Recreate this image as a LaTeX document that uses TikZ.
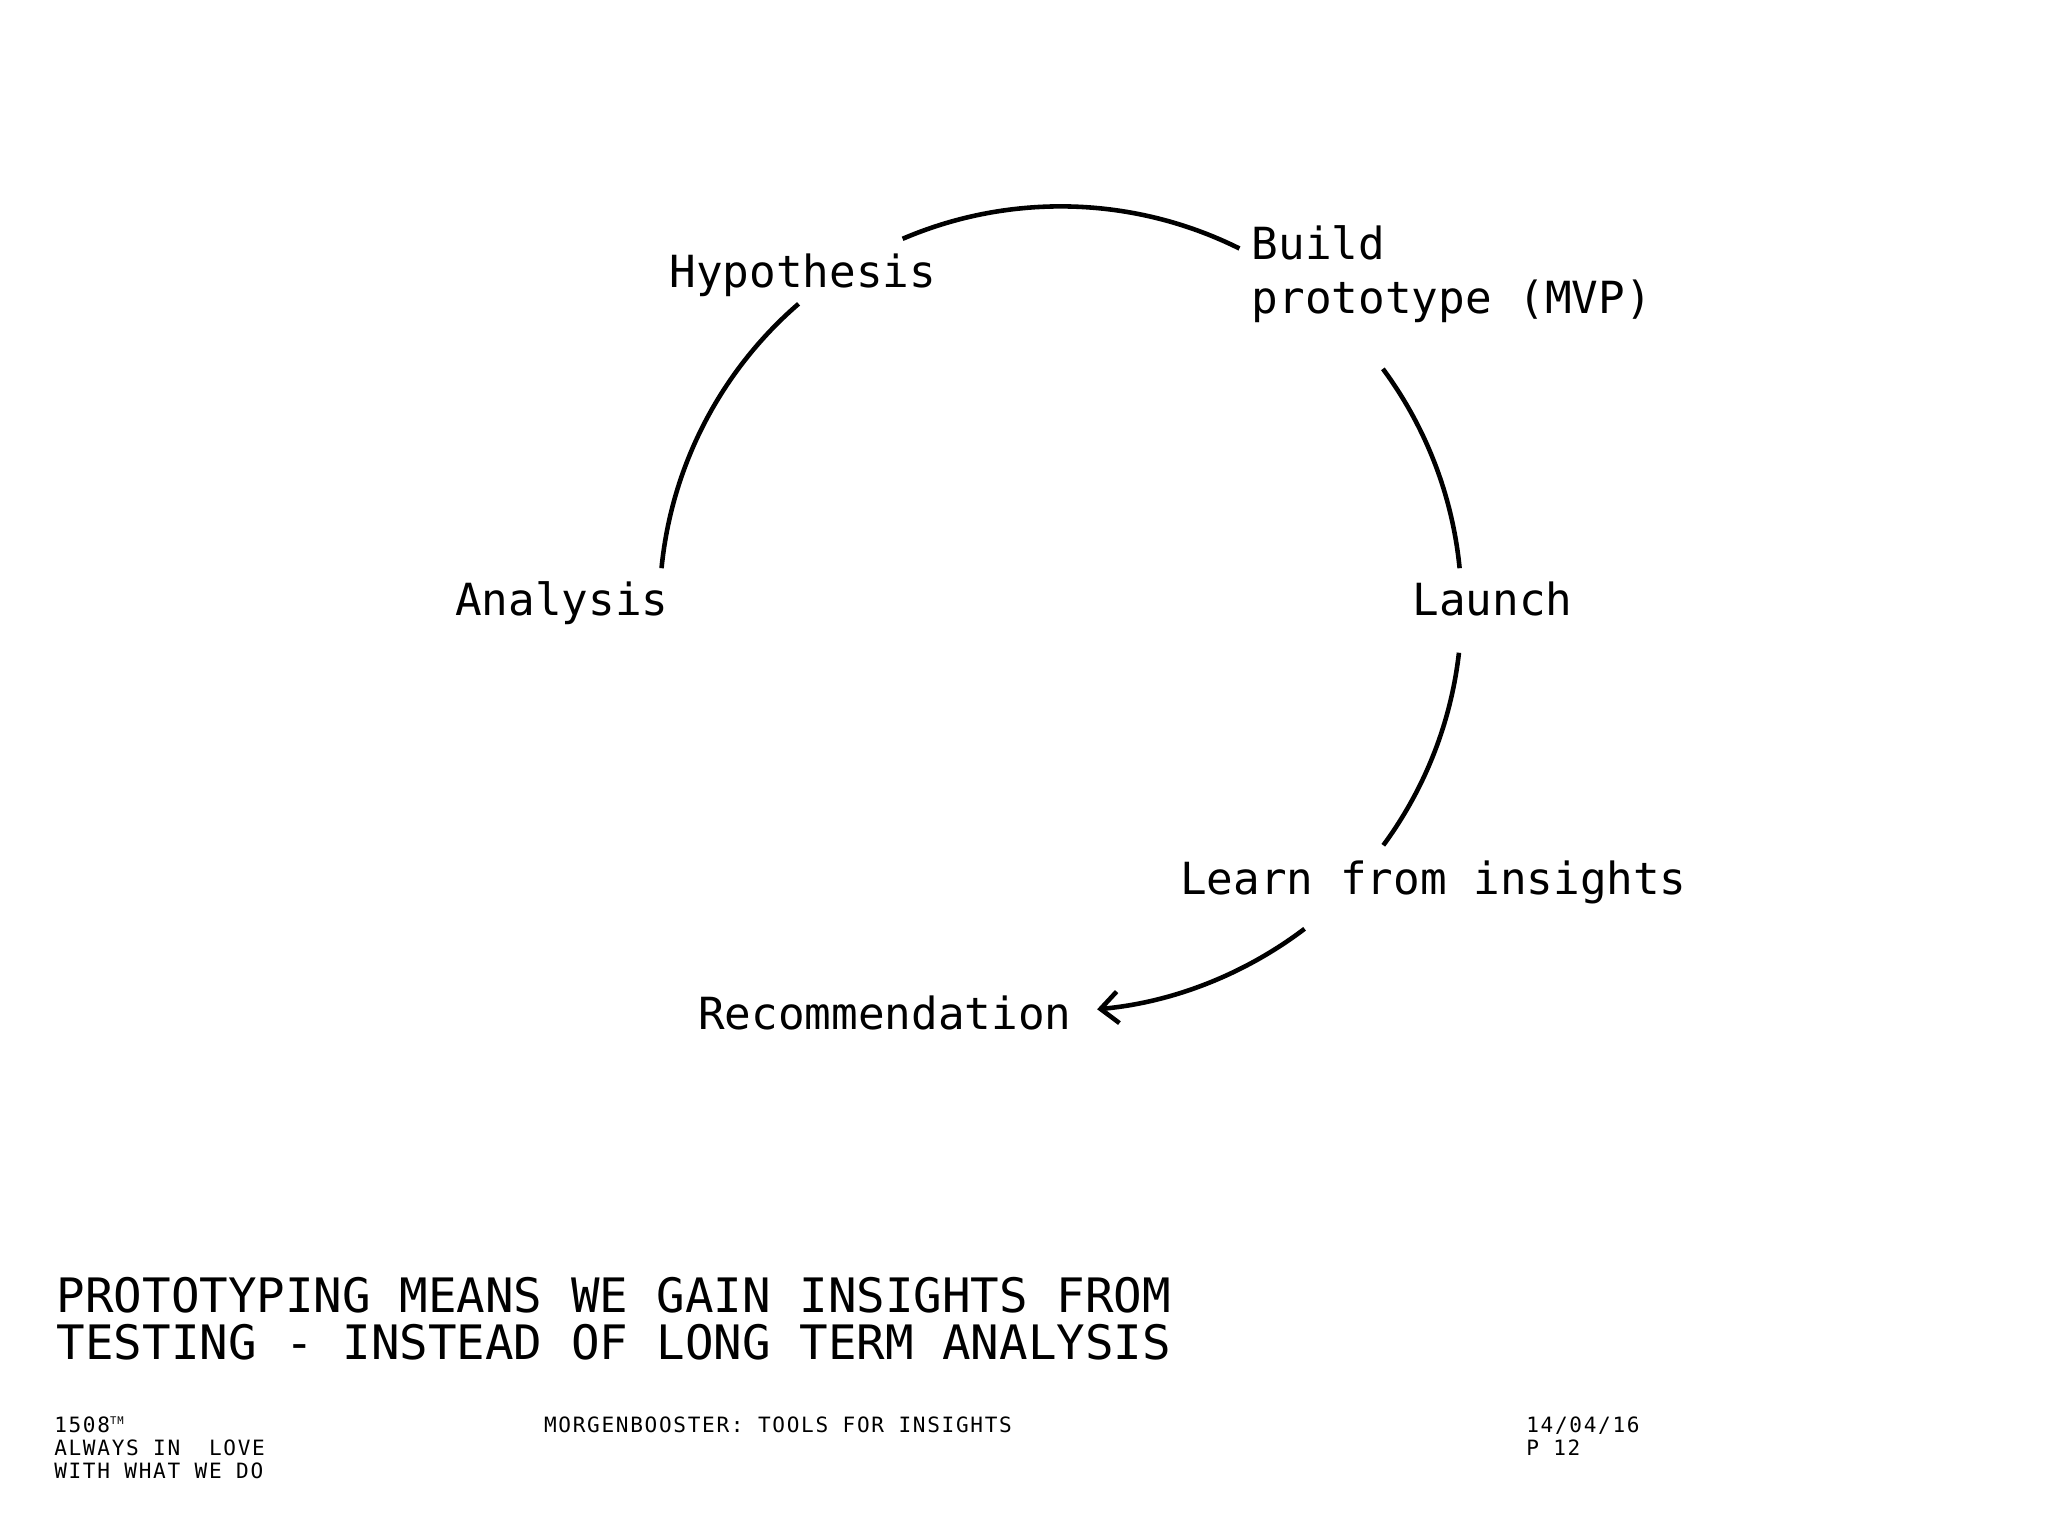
\documentclass[tikz,border=0pt]{standalone}
\usepackage{fontspec}
\setmonofont{DejaVu Sans Mono}
\usetikzlibrary{arrows.meta}
\begin{document}
\begin{tikzpicture}[x=0.013061cm,y=-0.013061cm,
  lbl/.style={anchor=base west,inner sep=0,font=\ttfamily\fontsize{12.6}{15}\selectfont},
  ttl/.style={anchor=base west,inner sep=0,font=\ttfamily\fontsize{13.5}{16}\selectfont},
  foot/.style={anchor=base west,inner sep=0,font=\ttfamily\fontsize{6}{6.7}\selectfont\addfontfeature{LetterSpace=8}},
  arcline/.style={line width=1.3pt}]
\useasboundingbox (0,0) rectangle (1568,1176);
\coordinate (c) at (812,465);
\node[lbl] (hyp) at (512,220) {Hypothesis};
\node[lbl] (build) at (958,199) {Build};
\node[lbl] (proto) at (958,240) {prototype (MVP)};
\node[lbl] (ana) at (348,471) {Analysis};
\node[lbl] (lau) at (1081,471) {Launch};
\node[lbl] (lea) at (903,685) {Learn from insights};
\node[lbl] (rec) at (534,788) {Recommendation};
\draw[arcline] (c) ++(185.6:307) arc[start angle=185.6,end angle=229.2,radius=307];
\draw[arcline] (c) ++(246.8:307) arc[start angle=246.8,end angle=296.5,radius=307];
\draw[arcline] (c) ++(323.5:307) arc[start angle=323.5,end angle=354.4,radius=307];
\draw[arcline] (c) ++(6.5:307) arc[start angle=6.5,end angle=36.4,radius=307];
\draw[arcline,-{Straight Barb[length=5pt,width=9pt]}] (c) ++(52.8:309) arc[start angle=52.8,end angle=84.8,radius=309];
\node[ttl] (t1) at (43,1005) {PROTOTYPING MEANS WE GAIN INSIGHTS FROM};
\node[ttl] (t2) at (43,1041) {TESTING - INSTEAD OF LONG TERM ANALYSIS};
\node[foot] (f1a) at (41,1097) {1508\raisebox{2.5pt}{\fontsize{3}{3}\selectfont TM}};
\node[foot] (f1b) at (41,1114) {ALWAYS IN\ \ LOVE};
\node[foot] (f1c) at (41,1132) {WITH WHAT WE DO};
\node[foot] (f2) at (416,1097) {MORGENBOOSTER: TOOLS FOR INSIGHTS};
\node[foot] (f3a) at (1168,1097) {14/04/16};
\node[foot] (f3b) at (1168,1114) {P 12};
\end{tikzpicture}
\end{document}
